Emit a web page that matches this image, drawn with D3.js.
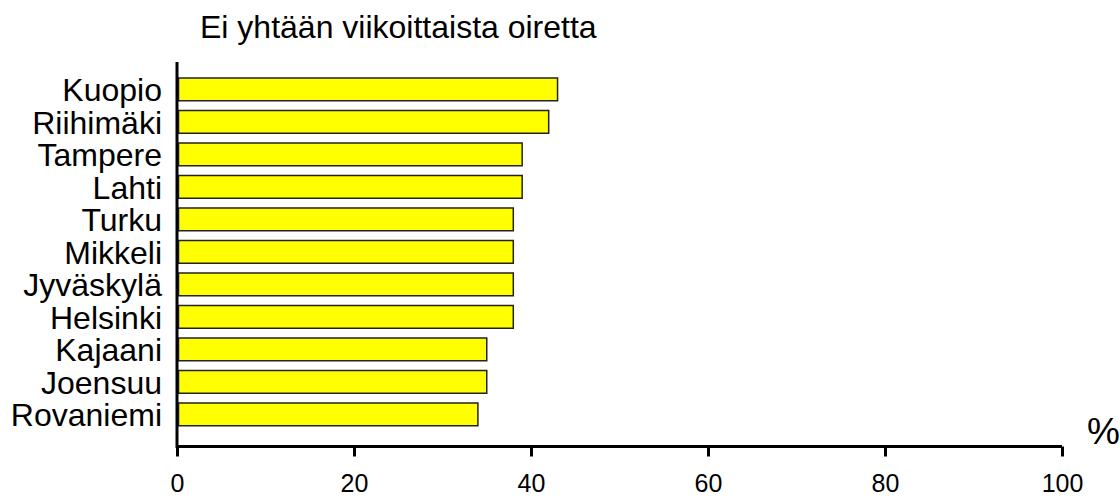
<!DOCTYPE html>
<html>
<head>
<meta charset="utf-8">
<script src="https://cdn.jsdelivr.net/npm/d3@7"></script>
<style>
  html, body { margin: 0; padding: 0; background: #fff; }
  svg text { font-family: "Liberation Sans", Arial, sans-serif; fill: #000; }
</style>
</head>
<body>
<svg id="chart" width="1119" height="497"></svg>
<script>
const title = "Ei yhtään viikoittaista oiretta";
const cities = ["Kuopio", "Riihimäki", "Tampere", "Lahti", "Turku", "Mikkeli",
                "Jyväskylä", "Helsinki", "Kajaani", "Joensuu", "Rovaniemi"];
const shares = [43, 42, 39, 39, 38, 38, 38, 38, 35, 35, 34];
const xTicks = [0, 20, 40, 60, 80, 100];
const unitLabel = "%";

const svg = d3.select("#chart");

const x = d3.scaleLinear().domain([0, 100]).range([177, 1062]);
const y = d3.scaleBand().domain(cities).range([68.25, 435.5]).padding(0.3);

const axisY = 446.5;

// bars
svg.append("g")
  .selectAll("rect")
  .data(cities)
  .join("rect")
  .attr("x", x(0) + 1.5)
  .attr("y", d => y(d))
  .attr("width", (d, i) => x(shares[i]) - x(0) - 1.5)
  .attr("height", y.bandwidth())
  .attr("fill", "#ffff00")
  .attr("stroke", "#222")
  .attr("stroke-width", 1.5);

// category labels
svg.append("g")
  .selectAll("text")
  .data(cities)
  .join("text")
  .attr("x", 162)
  .attr("y", d => y(d) + y.bandwidth() / 2)
  .attr("dy", "0.37em")
  .attr("text-anchor", "end")
  .style("font-size", "32px")
  .text(d => d);

// x axis
const xAxis = svg.append("g")
  .attr("transform", `translate(0,${axisY})`)
  .call(d3.axisBottom(x).tickValues(xTicks).tickSize(10).tickPadding(18).tickFormat(d3.format("d")));
xAxis.select(".domain").attr("stroke", "#000").attr("stroke-width", 3).attr("d", `M${x(0)},0H${x(100)}`);
xAxis.selectAll(".tick line").attr("stroke", "#000").attr("stroke-width", 3);
xAxis.selectAll(".tick text")
  .style("font-family", "'Liberation Sans', Arial, sans-serif")
  .style("font-size", "25px");

// y axis line
svg.append("line")
  .attr("x1", x(0)).attr("x2", x(0))
  .attr("y1", 62).attr("y2", axisY + 1.5)
  .attr("stroke", "#000").attr("stroke-width", 3);

// title
svg.append("text")
  .attr("x", 200).attr("y", 38)
  .style("font-size", "32px")
  .text(title);

// unit label
svg.append("text")
  .attr("x", 1087).attr("y", 444)
  .style("font-size", "37px")
  .text(unitLabel);
</script>
</body>
</html>
